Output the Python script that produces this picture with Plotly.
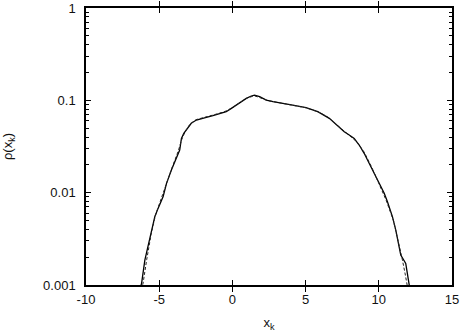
import plotly.graph_objects as go

# Solid curve
x_solid = [-6.35, -6.2, -5.98, -5.64, -5.30, -5.07, -4.73, -4.50, -4.16, -3.60, -3.48, -3.32,
           -3.14, -2.81, -2.46, -2.12, -1.78, -1.33, -0.87, -0.42, -0.07, 0.27, 0.61, 0.95,
           1.29, 1.51, 1.86, 2.31, 2.77, 3.22, 4.12, 5.03, 5.83, 6.62, 7.30, 7.64, 7.98, 8.32,
           8.66, 9.00, 9.35, 9.69, 10.03, 10.37, 10.59, 10.93, 11.16, 11.34, 11.50, 11.84,
           12.07, 12.15]
rho_solid = [0.00085, 0.00105, 0.00186, 0.00334, 0.0055, 0.0068, 0.0091, 0.0126, 0.0177, 0.0290,
             0.0387, 0.0440, 0.0479, 0.0564, 0.0612, 0.0638, 0.0655, 0.0682, 0.0723, 0.0753,
             0.0818, 0.0889, 0.0966, 0.105, 0.1114, 0.114, 0.1096, 0.1007, 0.0966, 0.0942,
             0.0889, 0.0832, 0.0753, 0.0638, 0.0513, 0.0457, 0.0421, 0.0387, 0.0328, 0.0267,
             0.0207, 0.0162, 0.0126, 0.00984, 0.00798, 0.0055, 0.00394, 0.00282, 0.00211,
             0.00171, 0.00105, 0.00085]

# Dashed curve
x_dashed = [-6.3, -6.1, -5.85, -5.55, -5.25, -4.9, -4.5, -4.1, -3.7, -3.45, -3.2, -2.9, -2.5,
            -2.0, -1.5, -1.0, -0.5, 0.0, 0.5, 1.0, 1.5, 2.0, 2.5, 3.0, 3.5, 4.0, 4.5, 5.0, 5.5,
            6.0, 6.5, 7.0, 7.5, 8.0, 8.5, 9.0, 9.5, 10.0, 10.5, 11.0, 11.3, 11.6, 11.8, 11.95,
            12.05]
rho_dashed = [0.00079, 0.00105, 0.0019, 0.00355, 0.00575, 0.0083, 0.0132, 0.0191, 0.0282, 0.038,
              0.0468, 0.055, 0.0617, 0.0646, 0.0676, 0.0716, 0.0759, 0.0832, 0.0944, 0.106,
              0.112, 0.106, 0.0989, 0.0955, 0.0923, 0.0895, 0.0865, 0.0832, 0.0785, 0.0733,
              0.0661, 0.0569, 0.0479, 0.0417, 0.0355, 0.0275, 0.0191, 0.0126, 0.0083, 0.0050,
              0.00316, 0.00191, 0.00132, 0.00100, 0.00079]

x_ticks = [-10, -5, 0, 5, 10, 15]
y_ticks = [0.001, 0.01, 0.1, 1]
y_tick_labels = ["0.001", "0.01", "0.1", "1"]
y_minor_ticks = [m * d for d in (0.001, 0.01, 0.1) for m in range(2, 10)]

fig = go.Figure()
# dashed curve drawn on an overlaid log axis (same range) that carries the minor ticks
fig.add_trace(go.Scatter(x=x_dashed, y=rho_dashed, mode="lines", yaxis="y2",
                         line=dict(color="#222222", width=1, dash="3px,2px"),
                         showlegend=False))
fig.add_trace(go.Scatter(x=x_solid, y=rho_solid, mode="lines",
                         line=dict(color="#000000", width=1.3),
                         showlegend=False))

font = dict(family="Liberation Sans, Arial, sans-serif", size=13, color="#111111")

fig.update_layout(
    width=465, height=334,
    margin=dict(l=86, r=13, t=8, b=49),
    paper_bgcolor="white", plot_bgcolor="white",
    font=font,
    xaxis=dict(range=[-10, 15], tickmode="array", tickvals=x_ticks,
               ticktext=[str(v) for v in x_ticks],
               ticks="inside", ticklen=5, tickcolor="black", tickwidth=1,
               showline=True, linecolor="black", linewidth=1.5, mirror="allticks",
               showgrid=False, zeroline=False, automargin=False,
               ticklabelstandoff=2,
               title=dict(text="x<sub>k</sub>", standoff=12, font=dict(size=13))),
    yaxis=dict(type="log", range=[-3, 0], tickmode="array", tickvals=y_ticks,
               ticktext=y_tick_labels,
               ticks="inside", ticklen=5, tickcolor="black", tickwidth=1,
               showline=True, linecolor="black", linewidth=1.5, mirror="allticks",
               showgrid=False, zeroline=False, automargin=False,
               ticklabelstandoff=6,
               title=dict(text="ρ(x<sub>k</sub>)", standoff=33, font=dict(size=13))),
    yaxis2=dict(type="log", range=[-3, 0], overlaying="y", side="left",
                tickmode="array", tickvals=y_minor_ticks, showticklabels=False,
                ticks="inside", ticklen=3, tickcolor="black", tickwidth=1,
                showline=True, linecolor="black", linewidth=1.5, mirror="allticks",
                showgrid=False, zeroline=False, automargin=False),
)

fig.write_html("out.html")
